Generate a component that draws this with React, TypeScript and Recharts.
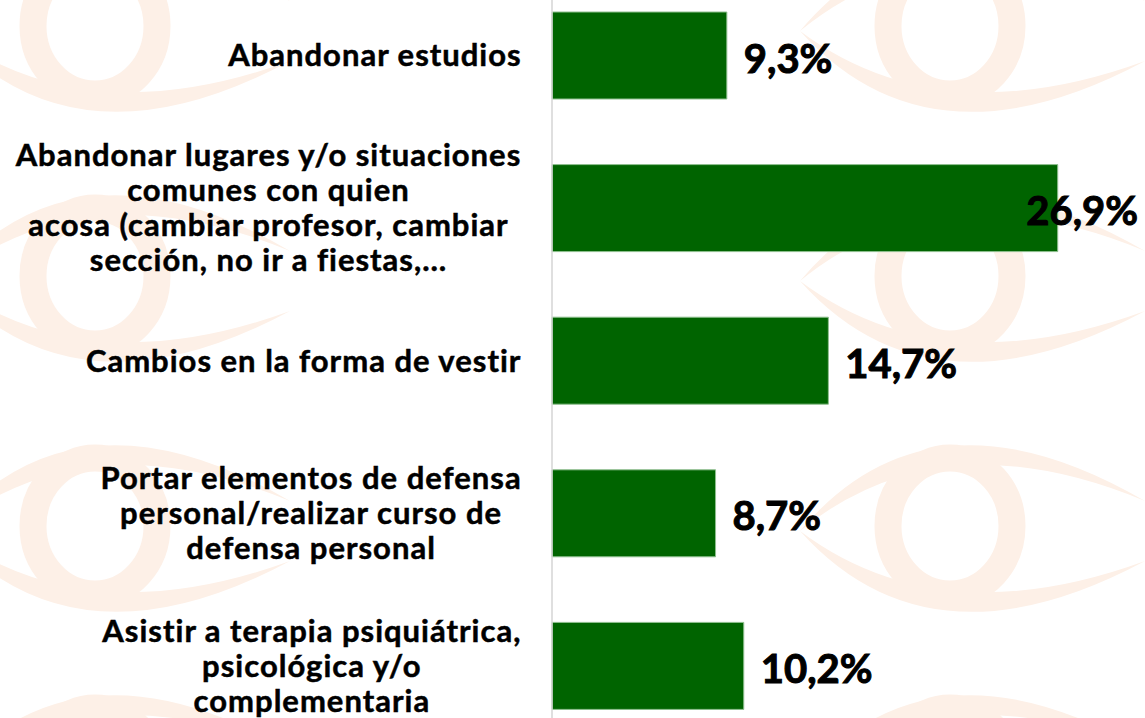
import { Bar, BarChart, LabelList, XAxis, YAxis } from "recharts";

// categories as printed on the slide (line breaks kept as in the original)
const categories = [
  "Abandonar estudios",
  "Abandonar lugares y/o situaciones\ncomunes con quien\nacosa (cambiar profesor, cambiar\nsección, no ir a fiestas,…",
  "Cambios en la forma de vestir",
  "Portar elementos de defensa\npersonal/realizar curso de\ndefensa personal",
  "Asistir a terapia psiquiátrica,\npsicológica y/o\ncomplementaria",
];
const percentages = [9.3, 26.9, 14.7, 8.7, 10.2];
const axisMax = 30;

const data = categories.map((name, i) => ({ name, value: percentages[i] }));

const WIDTH = 1145;
const HEIGHT = 718;
const CHART_H = 763;
const CHART_TOP = -21;
const GREEN = "#006400";
const LABEL_SIZE = 31;
const LABEL_SPACING = 1;
const VALUE_SIZE = 40;

let ctx: CanvasRenderingContext2D | null = null;
const measure = (s: string, font: string, spacing = 0) => {
  if (!ctx) ctx = document.createElement("canvas").getContext("2d");
  if (!ctx) return s.length * 15;
  ctx.font = font;
  return ctx.measureText(s).width + spacing * s.length;
};

const fmt = (v: number) => `${v.toFixed(1).replace(".", ",")}%`;

const CategoryTick = (props: any) => {
  const { x, y, payload } = props;
  const lines: string[] = String(payload.value).split("\n");
  const w = Math.max(
    ...lines.map((l) => measure(l, `bold ${LABEL_SIZE}px Lato`, LABEL_SPACING))
  );
  const cx = x - w / 2;
  const lh = 35;
  return (
    <g>
      {lines.map((l, i) => (
        <text
          key={i}
          x={cx}
          y={y + (i - (lines.length - 1) / 2) * lh - 1}
          textAnchor="middle"
          dominantBaseline="central"
          fontFamily="Lato"
          fontWeight={700}
          fontSize={LABEL_SIZE}
          letterSpacing={LABEL_SPACING}
          fill="#000"
          stroke="#000"
          strokeWidth={0.5}
        >
          {l}
        </text>
      ))}
    </g>
  );
};

const ValueLabel = (props: any) => {
  const { x, y, width, height, value } = props;
  const text = fmt(Number(value));
  const tw = measure(text, `bold ${VALUE_SIZE}px Lato`);
  let lx = x + width + 17;
  if (lx + tw > WIDTH - 7) lx = WIDTH - 7 - tw;
  return (
    <text
      x={lx}
      y={y + height / 2 + 2}
      dominantBaseline="central"
      fontFamily="Lato"
      fontWeight={700}
      fontSize={VALUE_SIZE}
      fill="#000"
      stroke="#000"
      strokeWidth={1}
    >
      {text}
    </text>
  );
};

// faint eye logos of the background pattern
const Watermark = () => {
  const tiles: { ex: number; ey: number }[] = [];
  for (let i = -1; i <= 1; i++)
    for (let j = -1; j <= 3; j++) tiles.push({ ex: 95 + 855 * i, ey: 26 + 250 * j });
  const peach = "#fdf0e7";
  return (
    <svg width={WIDTH} height={HEIGHT} style={{ position: "absolute", left: 0, top: 0 }}>
      {tiles.map(({ ex, ey }, k) => (
        <g key={k}>
          <path
            d={`M${ex - 150},${ey + 5} Q${ex - 20},${ey - 150} ${ex + 195},${ey - 25} Q${ex - 10},${ey - 110} ${ex - 150},${ey + 5} Z`}
            fill={peach}
          />
          <path
            d={`M${ex - 150},${ey + 5} Q${ex - 20},${ey + 150} ${ex + 195},${ey + 35} Q${ex - 10},${ey + 110} ${ex - 150},${ey + 5} Z`}
            fill={peach}
          />
          <ellipse cx={ex} cy={ey} rx={62} ry={68} fill="none" stroke={peach} strokeWidth={27} />
        </g>
      ))}
    </svg>
  );
};

export default function App() {
  return (
    <div
      style={{
        position: "absolute",
        left: 0,
        top: 0,
        width: WIDTH,
        height: HEIGHT,
        overflow: "hidden",
        background: "#fff",
      }}
    >
      <Watermark />
      <div style={{ position: "absolute", left: 0, top: CHART_TOP }}>
        <BarChart
          width={WIDTH}
          height={CHART_H}
          data={data}
          layout="vertical"
          margin={{ top: 0, right: 29, bottom: 0, left: 0 }}
          barSize={87}
        >
          <XAxis type="number" domain={[0, axisMax]} hide />
          <YAxis
            type="category"
            dataKey="name"
            width={552}
            axisLine={{ stroke: "#d4d4d4", strokeWidth: 1.5 }}
            tickLine={false}
            tickSize={0}
            tickMargin={30}
            tick={<CategoryTick />}
            interval={0}
          />
          <Bar
            dataKey="value"
            fill={GREEN}
            stroke="#8fbf8f"
            strokeWidth={1}
            isAnimationActive={false}
          >
            <LabelList dataKey="value" content={<ValueLabel />} />
          </Bar>
        </BarChart>
      </div>
    </div>
  );
}
